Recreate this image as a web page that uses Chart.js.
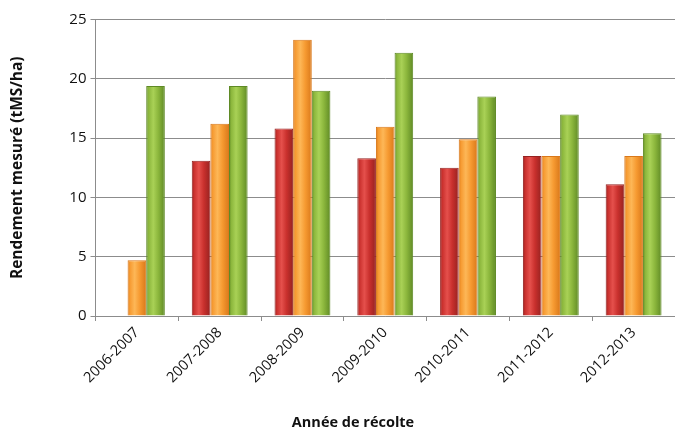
<!DOCTYPE html>
<html>
<head>
<meta charset="utf-8">
<script src="https://cdn.jsdelivr.net/npm/chart.js@4"></script>
<style>
html,body{margin:0;padding:0;background:#fff;}
#wrap{width:675px;height:434px;position:relative;}
</style>
</head>
<body>
<div id="wrap"><canvas id="c" width="675" height="434"></canvas></div>
<script>
const categories = ["2006-2007","2007-2008","2008-2009","2009-2010","2010-2011","2011-2012","2012-2013"];
const seriesRed = [null, 13.1, 15.8, 13.3, 12.5, 13.5, 11.1];
const seriesOrange = [4.7, 16.2, 23.3, 15.95, 14.9, 13.5, 13.5];
const seriesGreen = [19.4, 19.4, 19.0, 22.2, 18.5, 17.0, 15.4];
const yTitle = "Rendement mesuré (tMS/ha)";
const xTitle = "Année de récolte";

const palettes = [
  {dark:"#962220", light:"#E5504C", mid:"#C9302D"},
  {dark:"#D9781A", light:"#FDB757", mid:"#F69A31"},
  {dark:"#5F8A25", light:"#A9D156", mid:"#8BB63C"}
];

const gradientPlugin = {
  id: 'cylGradient',
  beforeDatasetsDraw(chart) {
    const ctx = chart.ctx;
    chart.data.datasets.forEach((ds, di) => {
      const meta = chart.getDatasetMeta(di);
      const p = palettes[di];
      meta.data.forEach(bar => {
        if (!bar || isNaN(bar.x) || !bar.width) return;
        const l = bar.x - bar.width / 2, r = bar.x + bar.width / 2;
        const g = ctx.createLinearGradient(l, 0, r, 0);
        g.addColorStop(0, p.dark);
        g.addColorStop(0.12, p.mid);
        g.addColorStop(0.38, p.light);
        g.addColorStop(0.65, p.mid);
        g.addColorStop(1, p.dark);
        bar.options = Object.assign({}, bar.options, { backgroundColor: g });
      });
    });
  }
};

const xTitlePlugin = {
  id: 'xTitle',
  afterDraw(chart) {
    const ctx = chart.ctx;
    ctx.save();
    ctx.font = "bold 14.5px 'Open Sans'";
    ctx.fillStyle = "#111";
    ctx.textAlign = "center";
    ctx.textBaseline = "middle";
    ctx.fillText(xTitle, 353, 423);
    ctx.restore();
  }
};

const mk = (label, data, i) => ({
  label, data,
  backgroundColor: (c) => palettes[c.datasetIndex].mid,
  borderColor: palettes[i].dark,
  borderWidth: 1,
  categoryPercentage: 0.675,
  barPercentage: 1.0
});

new Chart(document.getElementById('c'), {
  type: 'bar',
  data: {
    labels: categories,
    datasets: [
      mk("S1", seriesRed, 0),
      mk("S2", seriesOrange, 1),
      mk("S3", seriesGreen, 2)
    ]
  },
  plugins: [gradientPlugin, xTitlePlugin],
  options: {
    responsive: false,
    animation: false,
    layout: { padding: { top: 19.5, right: -6, left: 0, bottom: 0 } },
    plugins: { legend: { display: false }, tooltip: { enabled: false } },
    scales: {
      x: {
        afterFit(s) { s.height = 118; },
        grid: { offset: true, drawOnChartArea: false, drawTicks: true, tickLength: 5, color: "#8c8c8c" },
        border: { color: "#8c8c8c" },
        ticks: {
          autoSkip: false, maxRotation: 45, minRotation: 45, padding: 3,
          color: "#111", font: { family: "'Open Sans'", size: 14.5 }
        }
      },
      y: {
        min: 0, max: 25,
        afterFit(s) { s.width = 95.5; },
        grid: { color: "#8c8c8c", tickLength: 5, drawTicks: true },
        border: { color: "#8c8c8c" },
        ticks: { stepSize: 5, padding: 4, color: "#111", font: { family: "'Open Sans'", size: 15 } },
        title: {
          display: true, text: yTitle, color: "#111",
          font: { family: "'Open Sans'", size: 15.5, weight: 'bold' },
          padding: { top: 8, bottom: 0 }
        }
      }
    }
  }
});
</script>
</body>
</html>
